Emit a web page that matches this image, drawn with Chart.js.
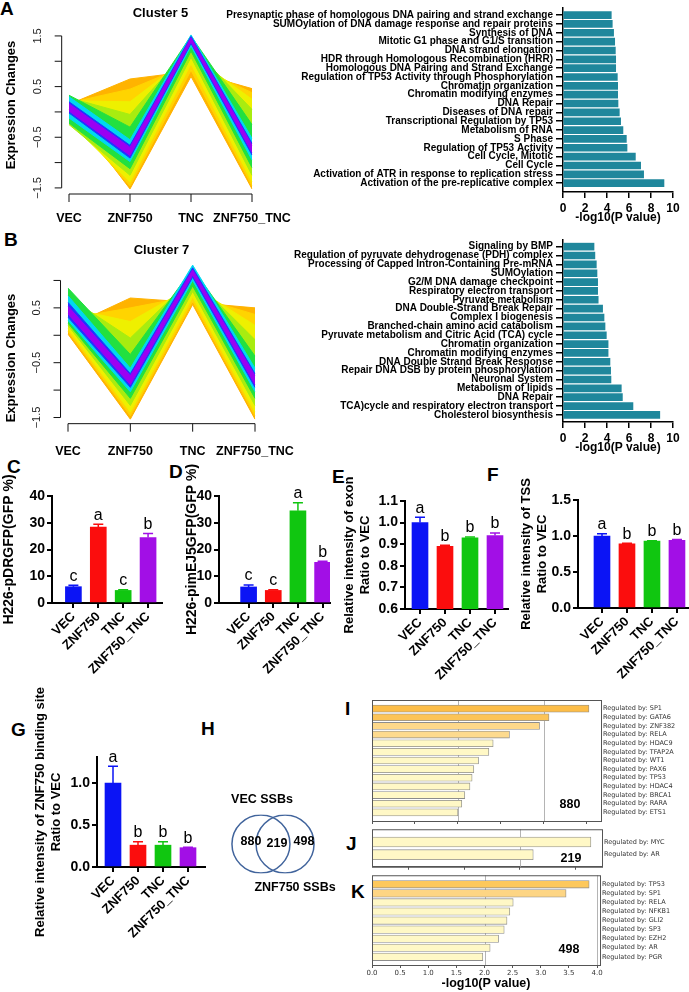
<!DOCTYPE html>
<html>
<head>
<meta charset="utf-8">
<script src="https://cdn.jsdelivr.net/npm/chart.js@4.4.1/dist/chart.umd.min.js"></script>
<style>
  body { margin: 0; background: #fff; width: 689px; height: 992px; position: relative; overflow: hidden; }
  canvas { position: absolute; }
  .lt { position: absolute; font: bold 19px 'Liberation Sans', Arial, sans-serif; line-height: 19px; color: #000; }
</style>
</head>
<body>
<div class="lt" style="left:0px;top:-1px">A</div>
<div class="lt" style="left:4px;top:230px">B</div>
<div class="lt" style="left:7px;top:457px">C</div>
<div class="lt" style="left:169px;top:462px">D</div>
<div class="lt" style="left:332px;top:467px">E</div>
<div class="lt" style="left:487px;top:465px">F</div>
<div class="lt" style="left:11px;top:720px">G</div>
<div class="lt" style="left:201px;top:719px">H</div>
<div class="lt" style="left:345px;top:699px">I</div>
<div class="lt" style="left:346px;top:834px">J</div>
<div class="lt" style="left:351px;top:882px">K</div>
<script>
// ---- data ----
const groups = ['VEC', 'ZNF750', 'TNC', 'ZNF750_TNC'];

// mfuzz fans: one upper / lower line per membership band, inner band first
const cluster5Hi = [
  [0.16, -0.70, 1.46, -0.66],
  [0.20, -0.66, 1.49, -0.62],
  [0.30, -0.55, 1.52, -0.52],
  [0.33, -0.30, 1.50, -0.25],
  [0.28, -0.05, 1.30, 0.05],
  [0.22, 0.20, 1.12, 0.25],
  [0.18, 0.45, 0.95, 0.38],
  [0.15, 0.65, 0.80, 0.46]
];
const cluster5Lo = [
  [0.02, -0.86, 1.38, -0.80],
  [-0.02, -0.91, 1.35, -0.85],
  [-0.12, -0.98, 1.30, -0.95],
  [-0.22, -1.12, 1.20, -1.10],
  [-0.25, -1.25, 1.08, -1.25],
  [-0.20, -1.38, 0.95, -1.38],
  [-0.10, -1.46, 0.82, -1.46],
  [0.05, -1.52, 0.70, -1.52]
];
const cluster7Hi = [
  [0.53, -0.74, 1.19, -0.74],
  [0.60, -0.70, 1.23, -0.70],
  [0.72, -0.60, 1.28, -0.60],
  [0.86, -0.35, 1.22, -0.38],
  [0.70, -0.05, 1.05, -0.08],
  [0.50, 0.25, 0.90, 0.18],
  [0.30, 0.50, 0.72, 0.38],
  [0.15, 0.68, 0.60, 0.50]
];
const cluster7Lo = [
  [0.39, -0.90, 1.10, -0.90],
  [0.33, -0.95, 1.06, -0.95],
  [0.27, -1.03, 1.00, -1.03],
  [0.22, -1.15, 0.90, -1.15],
  [0.18, -1.28, 0.80, -1.28],
  [0.12, -1.40, 0.70, -1.40],
  [0.07, -1.47, 0.62, -1.47],
  [0.02, -1.53, 0.56, -1.53]
];

const a5Terms = [
  'Presynaptic phase of homologous DNA pairing and strand exchange',
  'SUMOylation of DNA damage response and repair proteins',
  'Synthesis of DNA',
  'Mitotic G1 phase and G1/S transition',
  'DNA strand elongation',
  'HDR through Homologous Recombination (HRR)',
  'Homologous DNA Pairing and Strand Exchange',
  'Regulation of TP53 Activity through Phosphorylation',
  'Chromatin organization',
  'Chromatin modifying enzymes',
  'DNA Repair',
  'Diseases of DNA repair',
  'Transcriptional Regulation by TP53',
  'Metabolism of RNA',
  'S Phase',
  'Regulation of TP53 Activity',
  'Cell Cycle, Mitotic',
  'Cell Cycle',
  'Activation of ATR in response to replication stress',
  'Activation of the pre-replicative complex'
];
const a5Values = [4.39, 4.48, 4.6, 4.7, 4.76, 4.79, 4.79, 4.94, 4.97, 4.97, 5.0, 5.12, 5.24, 5.45, 5.76, 5.82, 6.58, 7.06, 7.33, 9.18];

const b7Terms = [
  'Signaling by BMP',
  'Regulation of pyruvate dehydrogenase (PDH) complex',
  'Processing of Capped Intron-Containing Pre-mRNA',
  'SUMOylation',
  'G2/M DNA damage checkpoint',
  'Respiratory electron transport',
  'Pyruvate metabolism',
  'DNA Double-Strand Break Repair',
  'Complex I biogenesis',
  'Branched-chain amino acid catabolism',
  'Pyruvate metabolism and Citric Acid (TCA) cycle',
  'Chromatin organization',
  'Chromatin modifying enzymes',
  'DNA Double Strand Break Response',
  'Repair DNA DSB by protein phosphorylation',
  'Neuronal System',
  'Metabolism of lipids',
  'DNA Repair',
  'TCA)cycle and respiratory electron transport',
  'Cholesterol biosynthesis'
];
const b7Values = [2.82, 2.9, 3.03, 3.09, 3.15, 3.15, 3.2, 3.6, 3.73, 3.82, 3.94, 4.1, 4.1, 4.27, 4.33, 4.36, 5.3, 5.4, 6.36, 8.8];

const cMeans = [6.1, 28.4, 4.7, 24.5];
const cErrs = [0.5, 1.0, 0.3, 1.5];
const cLetters = ['c', 'a', 'c', 'b'];
const dMeans = [6.0, 4.7, 34.5, 15.2];
const dErrs = [0.7, 0.3, 3.0, 0.4];
const dLetters = ['c', 'c', 'a', 'b'];
const eMeans = [1.0, 0.89, 0.93, 0.94];
const eErrs = [0.025, 0.005, 0.003, 0.012];
const eLetters = ['a', 'b', 'b', 'b'];
const fMeans = [1.0, 0.89, 0.93, 0.94];
const fErrs = [0.03, 0.008, 0.005, 0.01];
const fLetters = ['a', 'b', 'b', 'b'];
const gMeans = [1.0, 0.26, 0.26, 0.23];
const gErrs = [0.2, 0.04, 0.04, 0.005];
const gLetters = ['a', 'b', 'b', 'b'];

const vennSets = ['VEC SSBs', 'ZNF750 SSBs'];
const vennCounts = [880, 219, 498];

const iTerms = ['SP1', 'GATA6', 'ZNF382', 'RELA', 'HDAC9', 'TFAP2A', 'WT1', 'PAX6', 'TP53', 'HDAC4', 'BRCA1', 'RARA', 'ETS1'];
const iValues = [5.05, 4.12, 3.9, 3.2, 2.82, 2.72, 2.48, 2.37, 2.33, 2.28, 2.16, 2.09, 2.0];
const jTerms = ['MYC', 'AR'];
const jValues = [2.96, 2.18];
const kTerms = ['TP53', 'SP1', 'RELA', 'NFKB1', 'GLI2', 'SP3', 'EZH2', 'AR', 'PGR'];
const kValues = [3.86, 3.45, 2.51, 2.45, 2.4, 2.35, 2.25, 2.1, 1.97];
const kTicks = [0, 0.5, 1.0, 1.5, 2.0, 2.5, 3.0, 3.5, 4.0];

// ---- styles ----
const fanColors = ['#9b00f2', '#2233ff', '#00d8f0', '#22e040', '#a8ec10', '#eef000', '#ffd400', '#ffb300'];
const groupColors = ['#0b14f5', '#fb0d0d', '#10c610', '#a20fe6'];
const teal = '#1f879c';
const pale = '#fff8c6';

const FONT = "'Liberation Sans', Arial, sans-serif";
Chart.defaults.font.family = FONT;
Chart.defaults.color = '#000';
Chart.defaults.animation = false;
Chart.defaults.plugins.legend.display = false;
Chart.defaults.plugins.tooltip.enabled = false;

function mk(left, top, w, h) {
  const c = document.createElement('canvas');
  c.width = w; c.height = h;
  c.style.left = left + 'px'; c.style.top = top + 'px';
  c.style.width = w + 'px'; c.style.height = h + 'px';
  document.body.appendChild(c);
  return c;
}

// R style axes for the mfuzz plots
function rAxes(o) {
  return {
    id: 'rAxes',
    afterDraw(chart) {
      const ctx = chart.ctx, x = chart.scales.x, y = chart.scales.y;
      const xs = groups.map((g, i) => x.getPixelForValue(i));
      const unit = y.getPixelForValue(0) - y.getPixelForValue(1);
      const yLo = y.getPixelForValue(o.yTicks[0]);
      const yHi = y.getPixelForValue(o.yTicks[o.yTicks.length - 1]);
      const axX = xs[0] - 0.04 * (xs[3] - xs[0]);
      const axY = yLo + 0.04 * o.span * unit;
      ctx.save();
      ctx.strokeStyle = '#111';
      ctx.lineWidth = 1;
      ctx.beginPath();
      ctx.moveTo(axX, yLo); ctx.lineTo(axX, yHi);
      o.yTicks.forEach(v => { const p = y.getPixelForValue(v); ctx.moveTo(axX, p); ctx.lineTo(axX - 7, p); });
      ctx.moveTo(xs[0], axY); ctx.lineTo(xs[3], axY);
      xs.forEach(p => { ctx.moveTo(p, axY); ctx.lineTo(p, axY + 8); });
      ctx.stroke();
      ctx.fillStyle = '#222';
      ctx.font = '11px ' + FONT;
      ctx.textAlign = 'center';
      ctx.textBaseline = 'middle';
      o.yLabels.forEach(v => {
        ctx.save();
        ctx.translate(axX - 24, y.getPixelForValue(v));
        ctx.rotate(-Math.PI / 2);
        ctx.fillText(v < 0 ? '\u2212' + Math.abs(v).toFixed(1) : v.toFixed(1), 0, 0);
        ctx.restore();
      });
      ctx.fillStyle = '#000';
      ctx.font = 'bold 12.5px ' + FONT;
      groups.forEach((g, i) => ctx.fillText(g, xs[i], axY + o.labOff));
      ctx.save();
      ctx.translate(11, o.titleY);
      ctx.rotate(-Math.PI / 2);
      ctx.font = 'bold 13px ' + FONT;
      ctx.fillText('Expression Changes', 0, 0);
      ctx.restore();
      ctx.restore();
    }
  };
}

function fanChart(el, hi, lo, o) {
  const sets = [];
  fanColors.forEach((c, k) => {
    sets.push({ data: hi[k], borderColor: c, backgroundColor: c, borderWidth: 1, pointRadius: 0, fill: '+1' });
    sets.push({ data: lo[k], borderColor: c, backgroundColor: c, borderWidth: 1, pointRadius: 0, fill: false });
  });
  return new Chart(el, {
    type: 'line',
    data: { labels: groups, datasets: sets },
    options: {
      responsive: false, devicePixelRatio: 1,
      layout: { padding: o.pad },
      plugins: {
        title: { display: true, text: o.title, fullSize: false, color: '#000',
                 font: { size: 13, weight: 'bold' }, padding: o.tPad }
      },
      scales: { x: { display: false }, y: { display: false, min: o.yMin, max: o.yMax } }
    },
    plugins: [rAxes(o)]
  });
}

// GraphPad style horizontal enrichment bars
function termBars(el, terms, values, o) {
  return new Chart(el, {
    type: 'bar',
    data: { datasets: [{ data: values.map((v, i) => ({ x: v, y: i })), backgroundColor: teal, borderWidth: 0, barThickness: 7 }] },
    options: {
      indexAxis: 'y', responsive: false, devicePixelRatio: 1,
      layout: { padding: { top: o.padTop, right: 16, left: 0, bottom: 0 } },
      scales: {
        x: { type: 'linear', min: 0, max: 10, offset: false,
             ticks: { stepSize: 2, font: { size: 12, weight: 'bold' }, padding: 3, color: '#000' },
             grid: { drawOnChartArea: false, tickLength: 6, color: '#000', lineWidth: 1.5, offset: false },
             border: { color: '#000', width: 1.5 },
             title: { display: true, text: '-log10(P value)', color: '#000', font: { size: 12, weight: 'bold' }, padding: { top: 0, bottom: o.tPadB } },
             afterFit: s => { s.height = o.xH; } },
        y: { type: 'linear', reverse: true, min: o.yMin, max: o.yMax, offset: false,
             afterBuildTicks: s => { s.ticks = terms.map((t, i) => ({ value: i })); },
             ticks: { callback: v => terms[v], autoSkip: false, font: { size: 10, weight: 'bold', lineHeight: 1 }, padding: 3, color: '#000' },
             grid: { drawOnChartArea: false, tickLength: 7, color: '#000', lineWidth: 1.5, offset: false },
             border: { color: '#000', width: 1.5 },
             afterFit: s => { s.width = 363; } }
      }
    }
  });
}

// error bars + significance letters
function gpMarks(errs, letters) {
  return {
    id: 'gpMarks',
    afterDatasetsDraw(chart) {
      const ctx = chart.ctx, x = chart.scales.x, y = chart.scales.y;
      ctx.save();
      chart.data.datasets[0].data.forEach((d, i) => {
        const px = x.getPixelForValue(d.x);
        const pb = y.getPixelForValue(d.y);
        const pt = y.getPixelForValue(d.y + errs[i]);
        ctx.strokeStyle = groupColors[i];
        ctx.lineWidth = 1.5;
        ctx.beginPath();
        ctx.moveTo(px, pb); ctx.lineTo(px, pt);
        ctx.moveTo(px - 5, pt); ctx.lineTo(px + 5, pt);
        ctx.stroke();
        ctx.fillStyle = '#000';
        ctx.font = '16px ' + FONT;
        ctx.textAlign = 'center';
        ctx.textBaseline = 'bottom';
        ctx.fillText(letters[i], px, pt - 1);
      });
      ctx.restore();
    }
  };
}

function gpChart(el, means, errs, letters, o) {
  return new Chart(el, {
    type: 'bar',
    data: { datasets: [{ data: means.map((v, i) => ({ x: i, y: v })), backgroundColor: groupColors, borderWidth: 0, barThickness: 16 }] },
    options: {
      responsive: false, devicePixelRatio: 1,
      layout: { padding: { top: o.padTop, right: o.padRight, left: 0, bottom: 0 } },
      scales: {
        x: { type: 'linear', min: o.xMin, max: o.xMax, offset: false,
             afterBuildTicks: s => { s.ticks = groups.map((g, i) => ({ value: i })); },
             afterFit: s => { s.height = o.xH; },
             ticks: { callback: v => groups[v], autoSkip: false, minRotation: 45, maxRotation: 45, padding: 1,
                      font: { size: 13, weight: 'bold' }, color: '#000' },
             grid: { drawOnChartArea: false, tickLength: 5, color: '#000', lineWidth: 2, offset: false },
             border: { color: '#000', width: 2 } },
        y: { min: o.yMin, max: o.yMax,
             afterBuildTicks: s => { s.ticks = o.yTicks.map(v => ({ value: v })); },
             afterFit: s => { s.width = o.axisW; },
             ticks: { callback: v => o.dec ? v.toFixed(1) : v, font: { size: 14, weight: 'bold' }, padding: 2, color: '#000' },
             grid: { drawOnChartArea: false, tickLength: 5, color: '#000', lineWidth: 2 },
             border: { color: '#000', width: 2 },
             title: { display: true, text: o.title, color: '#000', font: { size: o.tSize, weight: 'bold' }, padding: { top: o.tPad, bottom: 0 } } }
      }
    },
    plugins: [gpMarks(errs, letters)]
  });
}

// Metascape style bars
function msFrame(o) {
  return {
    id: 'msFrame',
    beforeDatasetsDraw(chart) {
      const ctx = chart.ctx, a = chart.chartArea, x = chart.scales.x;
      ctx.save();
      ctx.strokeStyle = '#b4b4b4';
      ctx.lineWidth = 1;
      o.grids.forEach(v => {
        const p = Math.round(x.getPixelForValue(v)) + 0.5;
        ctx.beginPath(); ctx.moveTo(p, a.top); ctx.lineTo(p, a.bottom); ctx.stroke();
      });
      ctx.restore();
    },
    afterDraw(chart) {
      const ctx = chart.ctx, a = chart.chartArea;
      ctx.save();
      ctx.strokeStyle = '#555';
      ctx.lineWidth = 1;
      ctx.strokeRect(a.left + 0.5, a.top + 0.5, a.right - a.left, a.bottom - a.top);
      ctx.fillStyle = '#000';
      ctx.font = 'bold 12.5px ' + FONT;
      ctx.textAlign = 'center';
      ctx.textBaseline = 'middle';
      ctx.fillText(String(o.count), a.right - 31, a.bottom - o.countUp);
      ctx.restore();
    }
  };
}

function msChart(el, terms, values, colors, o) {
  return new Chart(el, {
    type: 'bar',
    data: { datasets: [{ data: values.map((v, i) => ({ x: v, y: i })), backgroundColor: colors,
                         borderColor: '#8c8c8c', borderWidth: 0.8, borderSkipped: false, barThickness: o.thick }] },
    options: {
      indexAxis: 'y', responsive: false, devicePixelRatio: 1,
      layout: { padding: { top: o.padTop, left: 7, right: 0, bottom: 0 } },
      scales: {
        x: { type: 'linear', min: 0, max: o.xMax, offset: false,
             afterBuildTicks: s => { s.ticks = o.ticks.map(v => ({ value: v })); },
             afterFit: s => { s.height = o.xH; },
             ticks: { display: !!o.xTitle, callback: v => v.toFixed(1), font: { family: 'DejaVu Sans', size: 7 }, color: '#333', padding: 1, autoSkip: false },
             grid: { drawOnChartArea: false, tickLength: 3, color: '#555', offset: false },
             border: { color: '#555', width: 1 },
             title: { display: !!o.xTitle, text: o.xTitle || '', color: '#000', font: { size: 12.5, weight: 'bold' }, padding: { top: 0, bottom: 0.5 } } },
        y: { type: 'linear', position: 'right', reverse: true, min: o.yMin, max: o.yMax, offset: false,
             afterBuildTicks: s => { s.ticks = terms.map((t, i) => ({ value: i })); },
             afterFit: s => { s.width = o.yW; },
             ticks: { callback: v => 'Regulated by: ' + terms[v], autoSkip: false, font: { family: 'DejaVu Sans', size: 6.5, lineHeight: 1 }, color: '#333', padding: 2 },
             grid: { display: false, drawTicks: false, offset: false },
             border: { display: false } }
      }
    },
    plugins: [msFrame(o)]
  });
}

// ---- A ----
fanChart(mk(0, 0, 300, 232), cluster5Hi, cluster5Lo, {
  title: 'Cluster 5', yMin: -1.62, yMax: 1.55,
  pad: { left: 69, right: 48, top: 0, bottom: 38 }, tPad: { top: 5.2, bottom: 12.6 },
  yTicks: [-1.5, -1.0, -0.5, 0, 0.5, 1.0, 1.5], yLabels: [-1.5, -0.5, 0.5, 1.5],
  span: 3.0, labOff: 25, titleY: 105
});
termBars(mk(200, 0, 489, 230), a5Terms, a5Values, { padTop: 8, yMin: -0.8, yMax: 20.0, xH: 38, tPadB: 4.8 });

// ---- B ----
fanChart(mk(0, 232, 300, 232), cluster7Hi, cluster7Lo, {
  title: 'Cluster 7', yMin: -1.6, yMax: 1.3,
  pad: { left: 68, right: 45, top: 0, bottom: 41 }, tPad: { top: 10.2, bottom: 6.2 },
  yTicks: [-1.5, -1.0, -0.5, 0, 0.5, 1.0], yLabels: [-1.5, -0.5, 0.5],
  span: 2.8, labOff: 28, titleY: 126
});
termBars(mk(200, 232, 489, 225), b7Terms, b7Values, { padTop: 6, yMin: -0.75, yMax: 19.8, xH: 35, tPadB: 1.8 });

// ---- C D E F G ----
gpChart(mk(0, 455, 168, 240), cMeans, cErrs, cLetters, {
  padTop: 41, padRight: 6, xH: 92, xMin: -0.86, xMax: 3.56, axisW: 52,
  yMin: 0, yMax: 40, yTicks: [0, 10, 20, 30, 40], title: 'H226-pDRGFP(GFP %)', tSize: 14, tPad: 1
});
gpChart(mk(168, 455, 168, 240), dMeans, dErrs, dLetters, {
  padTop: 41, padRight: 6, xH: 92, xMin: -1.2, xMax: 3.3, axisW: 51,
  yMin: 0, yMax: 40, yTicks: [0, 10, 20, 30, 40], title: 'H226-pimEJ5GFP(GFP %)', tSize: 14, tPad: 16
});
gpChart(mk(338, 455, 175, 240), eMeans, eErrs, eLetters, {
  padTop: 46, padRight: 5, xH: 86, xMin: -0.6, xMax: 3.52, axisW: 67, dec: true,
  yMin: 0.6, yMax: 1.1, yTicks: [0.6, 0.7, 0.8, 0.9, 1.0, 1.1],
  title: ['Relative intensity of exon', 'Ratio to VEC'], tSize: 13, tPad: 4
});
gpChart(mk(515, 455, 174, 240), fMeans, fErrs, fLetters, {
  padTop: 45, padRight: 0, xH: 87, xMin: -0.96, xMax: 3.48, axisW: 63, dec: true,
  yMin: 0, yMax: 1.5, yTicks: [0, 0.5, 1.0, 1.5],
  title: ['Relative intensity of TSS', 'Ratio to VEC'], tSize: 13, tPad: 4
});
gpChart(mk(0, 676, 212, 284), gMeans, gErrs, gLetters, {
  padTop: 81, padRight: 7, xH: 93, xMin: -0.64, xMax: 3.68, axisW: 97, dec: true,
  yMin: 0, yMax: 1.31, yTicks: [0, 0.5, 1.0],
  title: ['Relative intensity of ZNF750 binding site', 'Ratio to VEC'], tSize: 13, tPad: 33
});

// ---- H ----
const vennShift = 0.57;
new Chart(mk(196, 784, 154, 120), {
  type: 'scatter',
  data: { datasets: [{ data: [{ x: -vennShift, y: 0 }, { x: vennShift, y: 0 }],
                       pointRadius: 29, pointHoverRadius: 29, pointBorderColor: '#41649c',
                       pointBackgroundColor: 'rgba(0,0,0,0)', pointBorderWidth: 1.5 }] },
  options: {
    responsive: false, devicePixelRatio: 1,
    scales: { x: { display: false, min: -2.2, max: 2.2 }, y: { display: false, min: -1.714, max: 1.714 } }
  },
  plugins: [{
    id: 'vennText',
    afterDraw(chart) {
      const ctx = chart.ctx, x = chart.scales.x, y = chart.scales.y;
      const lx = x.getPixelForValue(-vennShift), rx = x.getPixelForValue(vennShift), cy = y.getPixelForValue(0);
      ctx.save();
      ctx.fillStyle = '#000';
      ctx.font = 'bold 12.5px ' + FONT;
      ctx.textAlign = 'center';
      ctx.textBaseline = 'middle';
      ctx.fillText(vennSets[0], lx + 1, cy - 44);
      ctx.fillText(vennSets[1], rx + 10, cy + 44);
      ctx.fillText(String(vennCounts[0]), lx - 10, cy - 2);
      ctx.fillText(String(vennCounts[1]), (lx + rx) / 2 + 4, cy);
      ctx.fillText(String(vennCounts[2]), rx + 19, cy - 2);
      ctx.restore();
    }
  }]
});

// ---- I J K ----
msChart(mk(365, 693, 324, 135), iTerms, iValues,
  ['#fcbd48', '#fcc458', '#fdd88a', '#fdda8e', pale, pale, pale, pale, pale, pale, pale, pale, pale], {
  padTop: 7, xH: 7, yW: 88, xMax: 5.33, ticks: [0, 1, 2, 3, 4, 5], grids: [2, 4],
  yMin: -1, yMax: 13, thick: 7, count: vennCounts[0], countUp: 16
});
msChart(mk(365, 824, 324, 48), jTerms, jValues, [pale, pale], {
  padTop: 5, xH: 5, yW: 87, xMax: 3.11, ticks: [0.5, 1.25, 2, 2.75], grids: [2],
  yMin: -1, yMax: 1.95, thick: 10, count: vennCounts[1], countUp: 8
});
msChart(mk(365, 870, 324, 122), kTerms, kValues,
  ['#fdc85c', '#fdd584', pale, pale, pale, pale, pale, pale, pale], {
  padTop: 5, xH: 27, yW: 89, xMax: 4.053, ticks: kTicks, grids: [2, 4],
  yMin: -1, yMax: 8.9, thick: 7.5, count: vennCounts[2], countUp: 15, xTitle: '-log10(P value)'
});
</script>
</body>
</html>
